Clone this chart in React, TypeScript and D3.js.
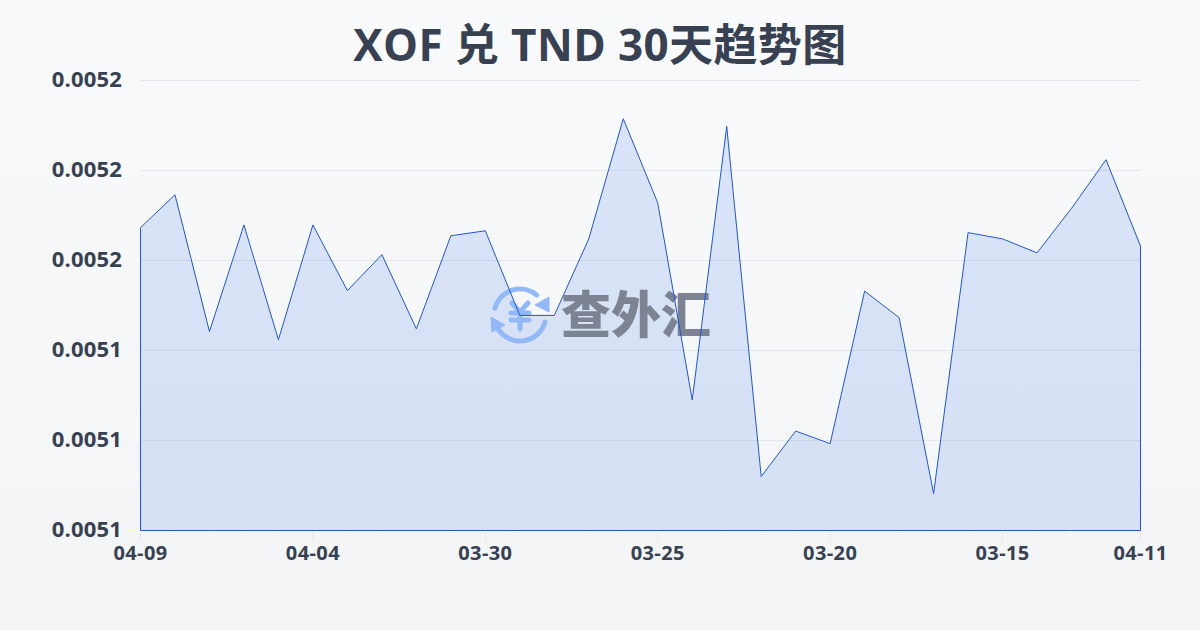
import React from "react";
import * as d3 from "d3";

const WIDTH = 1200;
const HEIGHT = 630;
const FONT = '"Open Sans", "Noto Sans CJK SC", sans-serif';

const titleText = "XOF 兑 TND 30天趋势图";
const dates = [
  "04-09", "04-08", "04-07", "04-06", "04-05", "04-04", "04-03", "04-02", "04-01", "03-31",
  "03-30", "03-29", "03-28", "03-27", "03-26", "03-25", "03-24", "03-23", "03-22", "03-21",
  "03-20", "03-19", "03-18", "03-17", "03-16", "03-15", "03-14", "03-13", "03-12", "04-11",
];
const rates = [
  0.0051673, 0.0051746, 0.0051442, 0.0051679, 0.0051424, 0.0051679, 0.0051533, 0.0051613, 0.0051448, 0.0051655,
  0.0051666, 0.0051478, 0.0051478, 0.0051648, 0.0051915, 0.0051728, 0.005129, 0.0051898, 0.005112, 0.0051221,
  0.0051193, 0.0051532, 0.0051473, 0.0051082, 0.0051662, 0.0051648, 0.0051617, 0.0051716, 0.0051824, 0.0051632,
];
const yTicks = [0.0051, 0.00512, 0.00514, 0.00516, 0.00518, 0.0052];
const xTickIndices = [0, 5, 10, 15, 20, 25, 29];

const x = d3.scaleLinear().domain([0, dates.length - 1]).range([140.5, 1140.5]);
const y = d3.scaleLinear().domain([0.0051, 0.0052]).range([530.5, 80.5]);

const areaPath = d3
  .area<number>()
  .x((_, i) => x(i))
  .y0(y(0.0051))
  .y1((d) => y(d))(rates) as string;

const cx = 520;
const cy = 315;
const R = 26;
const pt = (deg: number, r = R) => {
  const a = (deg * Math.PI) / 180;
  return [cx + r * Math.cos(a), cy + r * Math.sin(a)];
};
const arc = (from: number, to: number) => {
  const [x0, y0] = pt(from);
  const [x1, y1] = pt(to);
  return `M${x0},${y0}A${R},${R} 0 0 1 ${x1},${y1}`;
};

const logoBlue = "#93b8f8";
const textColor = "#374151";

export default function App() {
  return (
    <svg
      width={WIDTH}
      height={HEIGHT}
      viewBox={`0 0 ${WIDTH} ${HEIGHT}`}
      style={{ position: "fixed", left: 0, top: 0, display: "block" }}
      fontFamily={FONT}
    >
      <defs>
        <linearGradient id="bg" x1="0" y1="0" x2="0" y2="1">
          <stop offset="0" stopColor="#f9fafc" />
          <stop offset="1" stopColor="#f3f4f6" />
        </linearGradient>
      </defs>
      <rect width={WIDTH} height={HEIGHT} fill="url(#bg)" />
      <text x={600} y={61} textAnchor="middle" fontSize={44} fontWeight={700} letterSpacing={0.4} fill={textColor}>
        {titleText}
      </text>

      {yTicks.map((t) => (
        <line key={t} x1={140} x2={1141} y1={y(t)} y2={y(t)} stroke="#e5e7eb" strokeWidth={1} />
      ))}
      {xTickIndices.map((i) => (
        <line key={i} x1={x(i)} x2={x(i)} y1={530} y2={541} stroke="#e5e7eb" strokeWidth={1} />
      ))}
      {yTicks.map((t) => (
        <text key={t} x={122} y={y(t)} dy="0.3em" textAnchor="end" fontSize={22} fontWeight={700} letterSpacing={0.2} fill={textColor}>
          {t.toFixed(4)}
        </text>
      ))}
      {xTickIndices.map((i) => (
        <text key={i} x={x(i)} y={560} textAnchor="middle" fontSize={20} fontWeight={700} letterSpacing={0.4} fill={textColor}>
          {dates[i]}
        </text>
      ))}

      <path d={areaPath} fill="#2563eb" fillOpacity={0.14} />

      <g>
        <g fill="none" stroke={logoBlue} strokeWidth={5} strokeLinecap="round">
          <path d={arc(195, 310)} />
          <path d={arc(16, 145)} />
          <path d="M512,303 L520,312 L528,303" />
          <path d="M511,313 H529 M511,320 H529 M520,313 V329" />
        </g>
        <path d="M549,297 L549,312 L535,305 Z" fill={logoBlue} stroke={logoBlue} strokeWidth={1} strokeLinejoin="round" />
        <path d="M491,317 L505,325 L492,332 Z" fill={logoBlue} stroke={logoBlue} strokeWidth={1} strokeLinejoin="round" />
        <text x={561} y={333} fontSize={50} fontWeight={900} fontFamily='"Noto Sans CJK SC", sans-serif' fill="#7c8494">
          查外汇
        </text>
      </g>

      <path d={areaPath} fill="none" stroke="#2257c9" strokeWidth={1} />
    </svg>
  );
}
